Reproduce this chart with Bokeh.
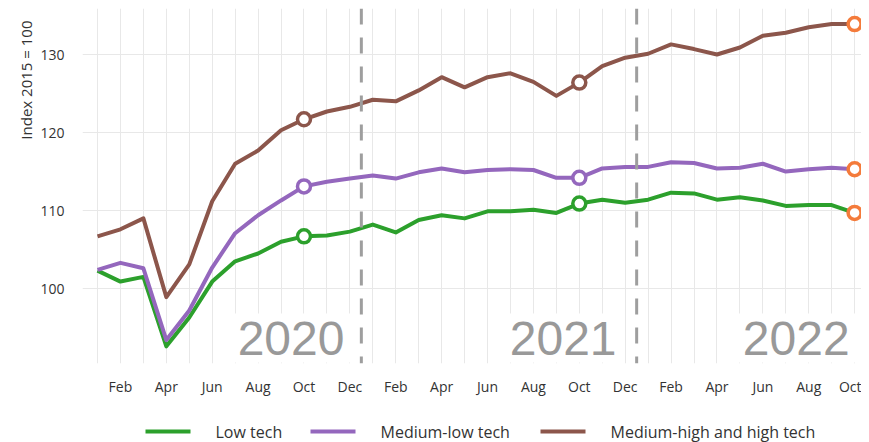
from bokeh.plotting import figure
from bokeh.core.properties import value
from bokeh.models import (ColumnDataSource, Span, Label, Title, FixedTicker, Range1d)
from bokeh.embed import file_html
from bokeh.resources import INLINE

# ---------------- data ----------------
month_names = ["Jan", "Feb", "Mar", "Apr", "May", "Jun",
               "Jul", "Aug", "Sep", "Oct", "Nov", "Dec"]
years = ["2020", "2021", "2022"]
n_months = 34  # Jan 2020 .. Oct 2022

low_tech = [102.3, 100.9, 101.5, 92.6, 96.3, 100.9, 103.5, 104.5, 106.0, 106.7, 106.8, 107.3,
            108.2, 107.2, 108.8, 109.4, 109.0, 109.9, 109.9, 110.1, 109.7, 110.9, 111.4, 111.0,
            111.4, 112.3, 112.2, 111.4, 111.7, 111.3, 110.6, 110.7, 110.7, 109.7]
medium_low_tech = [102.4, 103.3, 102.6, 93.4, 97.2, 102.7, 107.1, 109.4, 111.3, 113.1, 113.7, 114.1,
                   114.5, 114.1, 114.9, 115.4, 114.9, 115.2, 115.3, 115.2, 114.2, 114.2, 115.4, 115.6,
                   115.6, 116.2, 116.1, 115.4, 115.5, 116.0, 115.0, 115.3, 115.5, 115.3]
medium_high_tech = [106.7, 107.6, 109.0, 98.9, 103.1, 111.2, 116.0, 117.7, 120.3, 121.7, 122.7, 123.3,
                    124.2, 124.0, 125.4, 127.1, 125.8, 127.1, 127.6, 126.5, 124.7, 126.4, 128.5, 129.6,
                    130.1, 131.3, 130.7, 130.0, 130.9, 132.4, 132.8, 133.5, 133.9, 133.9]
series_names = ["Low tech", "Medium-low tech", "Medium-high and high tech"]
series_values = [low_tech, medium_low_tech, medium_high_tech]
series_colors = ["#2ca02c", "#9467bd", "#8c564b"]
highlight_months = [9, 21]   # Oct 2020, Oct 2021
latest_month = 33            # Oct 2022
latest_color = "#f47b3b"
y_ticks = [100, 110, 120, 130]

month_idx = list(range(n_months))
tick_labels = {i: month_names[i % 12] for i in month_idx if i % 2 == 1}

# ---------------- main figure ----------------
p = figure(width=861, height=408, output_backend="svg", toolbar_location=None,
           x_range=Range1d(-0.654, 33.3), y_range=Range1d(90.4, 135.9),
           min_border_left=82, min_border_right=0, min_border_top=8,
           min_border_bottom=45)
p.outline_line_color = None
p.background_fill_color = "white"

p.xgrid.ticker = FixedTicker(ticks=month_idx)
p.ygrid.ticker = FixedTicker(ticks=y_ticks)
for g in (p.xgrid, p.ygrid):
    g.grid_line_color = "#e8e8e8"
    g.grid_line_width = 1

p.xaxis.ticker = FixedTicker(ticks=sorted(tick_labels))
p.xaxis.major_label_overrides = tick_labels
p.yaxis.ticker = FixedTicker(ticks=y_ticks)
for ax in (p.xaxis, p.yaxis):
    ax.axis_line_color = None
    ax.major_tick_line_color = None
    ax.minor_tick_line_color = None
    ax.major_label_text_font = "Open Sans"
    ax.major_label_text_font_size = "14px"
    ax.major_label_text_color = "#333333"
p.xaxis.major_label_standoff = 7
p.yaxis.major_label_standoff = 12

# y-axis title, aligned to the top of the plot
p.add_layout(Title(text="Index 2015 = 100", align="right", offset=12,
                   text_font="Open Sans", text_font_size="15px",
                   text_font_style="normal", text_color="#333333",
                   standoff=4), "left")

# year labels with white boxes
year_right_edges = [10.72, 22.58, 32.74]
for yr, xr in zip(years, year_right_edges):
    p.add_layout(Label(x=xr, y=1, x_units="data", y_units="screen", text=yr,
                       x_offset=9, text_align="right", text_baseline="bottom",
                       text_font="Liberation Sans", text_font_size="48px",
                       text_color="#999999", background_fill_color="white",
                       background_fill_alpha=1.0, padding=8))

# year separators
for loc in (11.5, 23.5):
    p.add_layout(Span(location=loc, dimension="height", line_color="#9e9e9e",
                      line_width=3, line_dash="16 13"))

# lines and markers
for name, vals, col in zip(series_names, series_values, series_colors):
    src = ColumnDataSource(dict(x=month_idx, y=vals))
    p.line("x", "y", source=src, line_color=col, line_width=4, line_join="round")
    hsrc = ColumnDataSource(dict(x=highlight_months, y=[vals[i] for i in highlight_months]))
    p.scatter("x", "y", source=hsrc, size=13, fill_color="white",
              line_color=col, line_width=3.5)
    lsrc = ColumnDataSource(dict(x=[latest_month], y=[vals[latest_month]]))
    p.scatter("x", "y", source=lsrc, size=13, fill_color="white",
              line_color=latest_color, line_width=3.5)

# ---------------- legend strip ----------------
strip_w, strip_h = 861, 34
lg = figure(width=strip_w, height=strip_h, output_backend="svg", toolbar_location=None,
            x_range=Range1d(0, strip_w), y_range=Range1d(0, strip_h),
            x_axis_location=None, y_axis_location=None,
            min_border_left=0, min_border_right=0, min_border_top=0,
            min_border_bottom=0)
lg.outline_line_color = None
lg.xgrid.visible = False
lg.ygrid.visible = False
legend_x = [145, 310, 540]   # layout: left edge of each key line (px)
key_len, key_gap, key_y = 45, 25, 11
lsrc = ColumnDataSource(dict(
    x0=legend_x, x1=[x + key_len for x in legend_x],
    y=[key_y] * 3, tx=[x + key_len + key_gap for x in legend_x],
    name=series_names, color=series_colors))
lg.segment(x0="x0", y0="y", x1="x1", y1="y", source=lsrc, line_color="color",
           line_width=4)
lg.text(x="tx", y="y", text="name", source=lsrc, text_baseline="middle",
        text_font=value("Open Sans"), text_font_size="16px", text_color="#333333")

open("out.html", "w").write(file_html([p, lg], INLINE))
